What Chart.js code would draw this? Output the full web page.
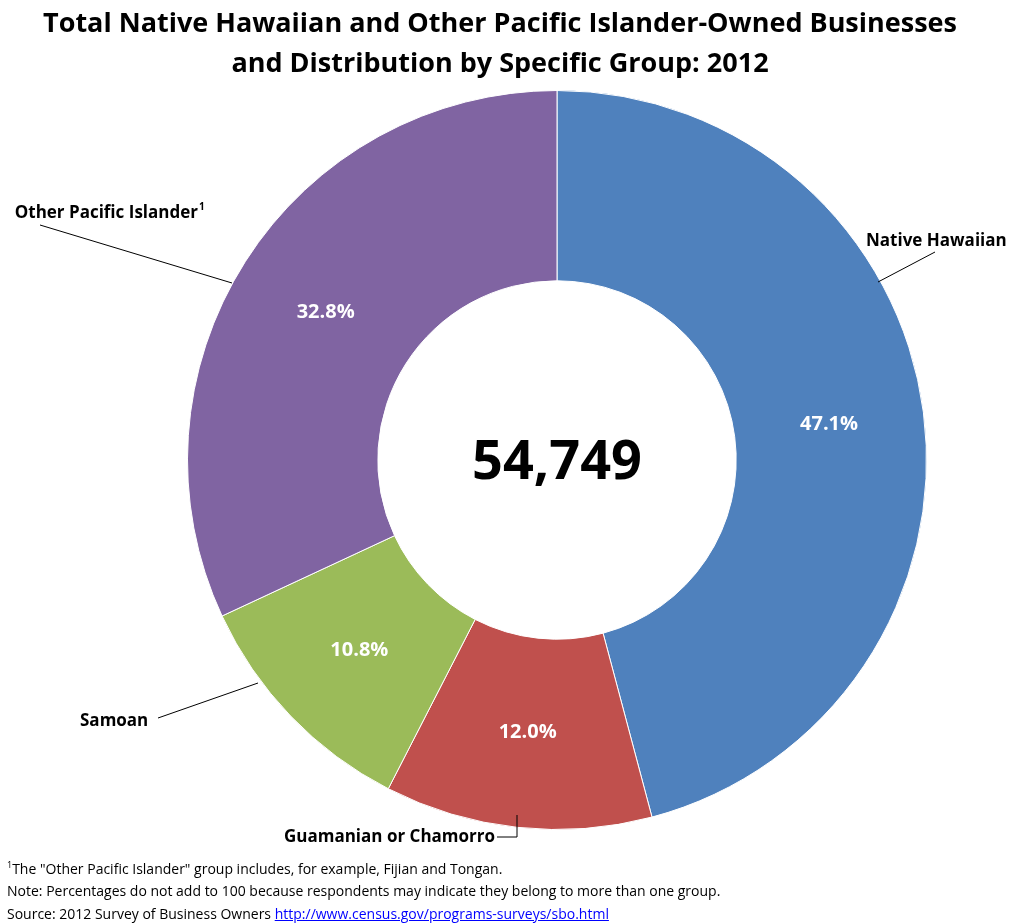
<!DOCTYPE html>
<html><head><meta charset="utf-8">
<script src="https://cdn.jsdelivr.net/npm/chart.js@4"></script>
<style>
body{margin:0;background:#fff;font-family:"Open Sans",sans-serif;}
#wrap{position:relative;width:1026px;height:923px;}
#title{position:absolute;top:2px;left:0;width:1000px;text-align:center;font-weight:bold;font-size:27px;line-height:40px;color:#000;}
#notes{position:absolute;left:7px;top:854px;font-size:14px;line-height:22.5px;color:#000;}
#notes a{color:#00f;}
</style></head><body>
<div id="wrap">
<canvas id="c" width="1026" height="923"></canvas>
<div id="title">Total Native Hawaiian and Other Pacific Islander-Owned Businesses<br>and Distribution by Specific Group: 2012</div>
<div id="notes"><sup style="font-size:9px">1</sup>The "Other Pacific Islander" group includes, for example, Fijian and Tongan.<br>
Note: Percentages do not add to 100 because respondents may indicate they belong to more than one group.<br>
Source: 2012 Survey of Business Owners <a href="#">http://www.census.gov/programs-surveys/sbo.html</a></div>
</div>
<script>
// datos del gráfico
const groups = ['Native Hawaiian', 'Guamanian or Chamorro', 'Samoan', 'Other Pacific Islander'];
const percents = [47.1, 12.0, 10.8, 32.8];
const colors = ['#4F81BD', '#C0504D', '#9BBB59', '#8064A2'];
const totalFirms = '54,749';

// etiquetas externas con líneas guía
const labelPlugin = {
    id: 'labels',
    afterDraw(chart) {
        const ctx = chart.ctx;
        const meta = chart.getDatasetMeta(0);
        ctx.save();
        // porcentajes
        ctx.font = 'bold 20px "Open Sans"';
        ctx.fillStyle = '#fff';
        ctx.textAlign = 'center';
        ctx.textBaseline = 'middle';
        meta.data.forEach((arc, i) => {
            const p = arc.tooltipPosition();
            ctx.fillText(percents[i].toFixed(1) + '%', p.x, p.y);
        });
        // centro
        const c = meta.data[0];
        ctx.fillStyle = '#000';
        ctx.font = 'bold 54px "Open Sans"';
        ctx.fillText(totalFirms, c.x, c.y + 4);

        // nombres
        ctx.font = 'bold 17px "Open Sans"';
        ctx.strokeStyle = '#000';
        ctx.lineWidth = 1;
        const line = pts => { ctx.beginPath(); ctx.moveTo(pts[0][0], pts[0][1]); pts.slice(1).forEach(p => ctx.lineTo(p[0], p[1])); ctx.stroke(); };
        ctx.textAlign = 'left';
        ctx.fillText('Native Hawaiian', 866, 241);
        line([[878, 282], [935, 252]]);
        ctx.fillText('Samoan', 80, 721);
        line([[158, 718], [258, 683]]);
        ctx.textAlign = 'right';
        ctx.fillText('Guamanian or Chamorro', 495, 837);
        line([[497, 837], [517, 837], [517, 815]]);
        ctx.fillText('Other Pacific Islander', 198, 213);
        ctx.font = 'bold 10px "Open Sans"';
        ctx.textAlign = 'left';
        ctx.fillText('1', 199, 207);
        line([[40, 225], [232, 283]]);
        ctx.restore();
    }
};

new Chart(document.getElementById('c'), {
    type: 'doughnut',
    data: {
        labels: groups,
        datasets: [{ data: percents, backgroundColor: colors, borderColor: '#fff', borderWidth: 1 }]
    },
    options: {
        responsive: false,
        animation: false,
        cutout: '48.5%',
        layout: { padding: { left: 187, right: 99, top: 90, bottom: 93 } },
        plugins: { legend: { display: false }, tooltip: { enabled: false } }
    },
    plugins: [labelPlugin]
});
</script>
</body></html>
